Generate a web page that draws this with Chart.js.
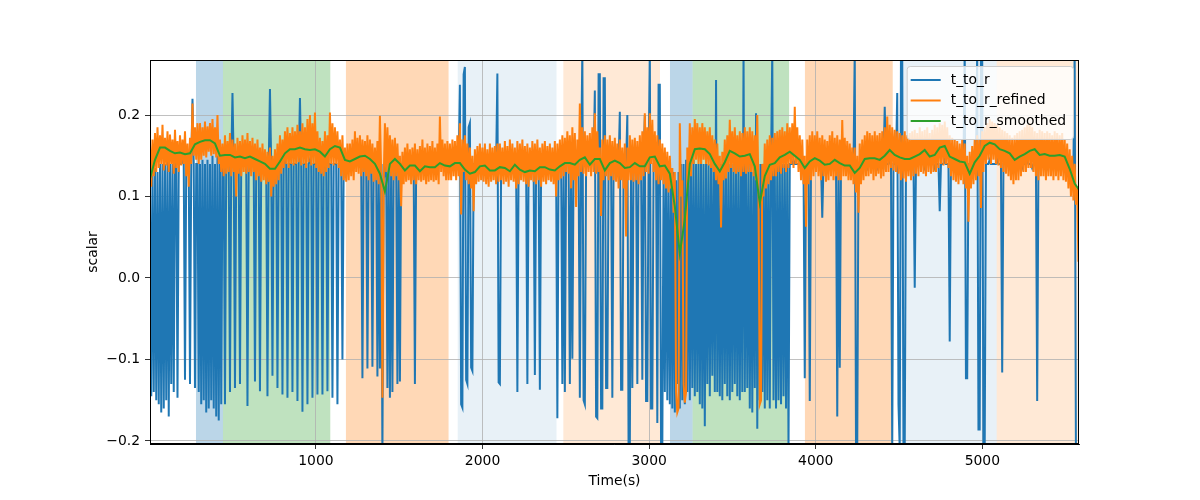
<!DOCTYPE html>
<html>
<head>
<meta charset="utf-8">
<script src="https://cdn.jsdelivr.net/npm/chart.js@4/dist/chart.umd.min.js"></script>
<style>
  body { margin: 0; background: #fff; }
  canvas { display: block; }
</style>
</head>
<body>
<canvas id="chart" width="1200" height="500"></canvas>
<script>
// sampling of the series along Time(s)
const startTime = 4;
const rawStep = 7.5;
const smoothStep = 30;

const xTicks = [1000, 2000, 3000, 4000, 5000];
const yTicks = [-0.2, -0.1, 0.0, 0.1, 0.2];

const tToR = [
  .11,-.145,.13,-.14,.135,-.15,.13,-.155,.14,-.165,.14,-.16,.14,-.15,.145,-.17,.14,-.13,.14,-.14, .14,.14,-.147,.14,.14,.14,.145,.14,-.125,.14, .14,.14,-.13,.14,.22,.14,-.135,.14,.14,-.14,
  .14,-.155,.145,-.15,.14,-.165,.145,-.16,.14,-.15,.15,-.16,.14,-.17,.15,-.175,.14,-.155, .14,.14,-.155,.14,.145,.14,-.14,.14,.227,.14,-.135,.14,.14,.14,-.13,.14,.14,.14,.145,.14,-.157,.14,
  .14,.14, .145,.14, -.127,.14, .14,.14, -.139,.14, .14,.14, .145,.14, -.145,.14, .232,.14, -.12,.14, .14,.14, -.135,.14, .14,.14, -.143,.14, .145,.14, -.147,.14, .14,.14, -.14,.14, .14,.14, -.151,.14,
  .221,.14, -.164,.14, .14,.14, -.155,.14, .145,.14, -.147,.14, .14,.14, -.143,.14, .14,.14, -.143,.14, .14,.14, -.139,.14, .14,.14, -.147,.14, .14,.14, -.155,.14, .14,.14, -.1,.14, .14,.14, .145,.14,
  .145,.14, .14,.14, .15,.14, .14,.14, .145,.14, -.123,.14, .14,.14, -.111,.14, .14,.14, -.109,.14, .14,.14, -.121,.14, -.111,.14, -.22,.14, .13,.14, -.135,.14, -.147,.14, -.14,.14, .14,.14, -.13,.14,
  -.127,.14, .14,.14, .145,.14, .14,.14, .145,.14, .14,.14, -.13,.14, .14,.14, .145,.14, .14,.14, .135,.14, .14,.14, .145,.14, .14,.14, .135,.14, .14,.14, .145,.14, .14,.14, .135,.14, .14,.14,
  .14,.14, .14,.14, .145,.14, .14,.14, .237,-.155, -.159,.25, .259,-.125, -.13,.185, .19,-.11, -.114,.14, .14,.14, .145,.14, .14,.14, .135,.14, .14,.14, .145,.14, .14,.14, .14,.14, .145,.14, .251,-.128,
  -.13,.14, .14,.14, .145,.14, .14,.14, .14,.14, .145,.14, .14,.14, -.14,.14, .14,.14, .14,.14, .145,.14, -.13,.14, .14,.14, .14,.14, -.119,.14, .14,.14, -.137,.14, .14,.14, .145,.14, .14,.14,
  .14,.14, .145,.14, .14,.14, -.172,.14, .14,.14, -.13,.14, -.14,.14, .14,.14, -.13,.14, -.099,.14, .14,.14, .14,.14, -.147,.14, .28,-.15, -.155,.14, .14,.14, .145,.14, .14,.14, .23,-.17, -.172,.25,
  .25,-.16, -.16,.245, .245,-.135, -.135,.14, .14,.14, -.147,.14, .14,.14, .14,.14, .204,-.137, -.137,.14, .14,.14, .2,-.21, -.21,.14, -.135,.14, .14,.14, -.13,.14, .14,.14, -.125,.14, .2,-.151, -.151,.14,
  .28,-.16,-.16,.14,.14,.14,-.178,.237,.237,-.21,-.21, .14,-.14,.14,-.15,.13,-.155,.12,-.16,.13,-.165,.12,-.13,.13,-.16,.14,-.15,.14,-.155,.145,-.14,.14,-.15,.14,-.135,.145,-.145,.14,-.14,.14,
  -.155,.145,-.16,.14,-.182,.14,-.13,.14,-.145,.14, -.12,.14,-.14,.243,-.14,.14,-.145,.14,-.15,.14, -.13,.14,-.145,.14,-.15,.14,-.14,.14,-.13,.14, -.145,.14,-.15,.14,-.14,.28,-.14,.14,-.135,.14,
  -.16,.14,-.165,.13,-.135,.202,-.185,.14,-.15,.14, -.14,.14,-.16,.14,-.15,.14,-.16,.14,.28,-.15, .14,-.16,.14,-.15,.14,-.155,.14,-.145,.14,-.16, .14,-.21,.14,.14,.14,.145,.14,.14,.14,.14,
  .14,.14, .14,.14, -.123,.14, .14,.14, -.151,.14, .14,.14, .145,.14, .14,.14, .14,.14, .074,.14, .14,.14, .145,.14, .14,.14, .14,.14, .145,.14, -.17,.14, -.11,.14, .14,.14, .145,.14, .14,.14,
  .14,.14, .145,.14, .28,-.21, -.21,.14, .14,.14, .145,.14, .14,.14, .135,.14, .14,.14, .145,.14, .14,.14, .135,.14, .14,.14, .145,.14, .21,.14, .14,.14, .145,.14, -.21,.14, .14,.14, .227,-.155,
  -.21,.28, .28,-.21, -.21,.14, .14,.14, .145,.14, .14,.14, -.012,.14, .14,.14, .145,.14, .14,.14, .135,.14, .14,.14, .145,.14, .14,.14, .135,.14, .14,.14, .082,.14, .14,.14, .145,.14, .14,.14,
  -.078,.14, .14,.14, .145,.14, .14,.14, .135,.14, .14,.14, .28,-.123, -.123,.14, .14,.14, .145,.14, .14,.14, .28,-.186, -.186,.28, .28,-.21, -.21,.14, .14,.14, .145,.14, .14,.14, .14,.14, .145,.14,
  .14,.14, -.116,.14, .14,.14, .145,.14, .14,.14, .135,.14, .14,.14, .145,.14, .14,.14, .135,.14, .14,.14, .145,.14, .14,.14, .135,.14, .14,.14, -.151,.14, .14,.14, .145,.14, .14,.14, .135,.14,
  .14,.14, .145,.14, .14,.14, .135,.14, .14,.14, .145,.14, .14,.14, .135,.14, .14,.14, .13,.14, .28,-.21, -.21,-.21
];

const tToRRefined = [
  .165,.112, .17,.125, .178,.13, .185,.135, .175,.14, .188,.132, .172,.138, .18,.13, .176,.14, .17,.128, .182,.135, .168,.13, .175,.138, .17,.14, .18,.125, .165,.112, .172,.14, .214,.15, .185,.145, .19,.14,
  .19,.145, .185,.15, .192,.148, .186,.155, .19,.15, .195,.152, .185,.148, .2,.14, .17,.13, .165,.125, .175,.128, .168,.13, .178,.125, .17,.13, .165,.10, .172,.128, .168,.125, .175,.13, .17,.128, .178,.13,
  .168,.125, .172,.13, .165,.12, .17,.125, .16,.118, .165,.12, .158,.115, .155,.118, .16,.10, .15,.112, .158,.115, .165,.12, .175,.128, .17,.135, .18,.14, .185,.135, .178,.14, .185,.138, .18,.14, .188,.142,
  .18,.138, .19,.14, .185,.135, .195,.142, .2,.138, .19,.14, .203,.135, .18,.13, .172,.128, .168,.125, .18,.13, .175,.135, .203,.14, .19,.138, .185,.14, .18,.135, .17,.125, .175,.12, .16,.118, .165,.12,
  .165,.125, .17,.12, .18,.13, .172,.128, .175,.125, .17,.13, .168,.125, .175,.12, .17,.128, .165,.118, .16,.12, .168,.115, .199,.13, -.147,.12, .19,.13, .185,.132, .175,.125, .17,.12, .172,.125, .165,.12,
  .15,.088, .155,.115, .16,.118, .165,.12, .158,.115, .16,.12, .165,.115, .158,.12, .162,.118, .17,.12, .16,.115, .165,.118, .162,.12, .168,.118, .16,.12, .165,.115, .198,.13, .17,.125, .165,.12, .168,.12,
  .165,.12, .17,.125, .168,.12, .175,.125, .19,.078, .17,.13, .175,.12, .165,.115, .16,.11, .15,.082, .158,.115, .162,.118, .165,.12, .16,.118, .165,.115, .158,.112, .165,.118, .16,.12, .162,.115, .165,.118,
  .165,.12, .16,.115, .168,.118, .162,.112, .17,.12, .165,.118, .16,.11, .168,.115, .165,.12, .17,.118, .162,.115, .165,.112, .16,.12, .168,.118, .165,.115, .17,.12, .16,.112, .165,.118, .168,.115, .162,.12,
  .165,.118, .16,.115, .168,.1, .165,.12, .17,.122, .175,.125, .172,.13, .18,.128, .175,.11, .185,.12, .178,.087, .17,.125, .214,.13, .185,.128, .18,.125, .175,.13, .178,.125, .185,.13, .202,.128, .18,.13,
  .16,.076, .17,.12, .175,.125, .17,.12, .175,.125, .168,.12, .172,.118, .165,.11, .17,.12, .16,.11, .165,.051, .16,.12, .175,.12, .17,.118, .172,.12, .168,.115, .175,.12, .18,.125, .202,.13, .185,.128,
  .202,.14, .194,.13, .18,.12, .175,.115, .17,.12, .165,.115, .16,.11, .155,.105, .15,.11, .135,.08, .13,-.14, -.165,-.16, .19,.1, .12,-.13, -.153,-.14, .16,.12, .19,.125, .185,.14, .195,.145, .19,.14,
  .185,.14, .19,.145, .185,.14, .18,.138, .185,.135, .175,.13, .17,.12, .165,.115, .15,.062, .155,.12, .17,.122, .175,.13, .194,.135, .18,.13, .185,.128, .175,.13, .18,.125, .178,.13, .185,.128, .18,.13,
  .185,.13, .18,.125, .175,.12, .2,.1, -.155,-.15, .14,.10, .165,.11, .17,.115, .175,.12, .172,.125, .178,.125, .18,.13, .182,.128, .185,.135, .18,.13, .19,.135, .185,.14, .19,.135, .21,.14, .185,.13,
  .175,.12, .17,.115, .15,.063, .17,.115, .175,.12, .18,.125, .175,.13, .18,.125, .172,.12, .175,.125, .17,.118, .168,.12, .175,.125, .18,.12, .172,.125, .175,.12, .17,.12, .194,.125, .172,.125, .168,.12,
  .165,.12, .16,.115, .16,.105, .15,.08, .165,.115, .17,.12, .175,.125, .18,.125, .178,.128, .175,.12, .18,.125, .175,.128, .178,.122, .18,.125, .185,.13, .198,.13, .188,.135, .185,.132, .182,.13, .18,.128,
  .178,.12, .175,.122, .18,.118, .175,.125, .178,.12, .18,.125, .182,.128, .178,.125, .185,.13, .18,.128, .182,.125, .185,.13, .178,.128, .182,.13, .188,.13, .185,.135, .19,.14, .188,.138, .192,.14, .185,.135,
  .175,.125, .172,.12, .17,.118, .168,.115, .165,.12, .17,.115, .165,.11, .15,.069, .155,.11, .162,.115, .17,.12, .175,.125, .17,.086, .18,.13, .185,.14, .19,.145, .195,.14, .192,.145, .19,.14, .188,.138,
  .185,.135, .182,.13, .18,.128, .178,.125, .175,.12, .172,.115, .175,.12, .178,.12, .18,.125, .182,.13, .185,.13, .188,.135, .19,.135, .185,.13, .18,.125, .178,.12, .182,.125, .18,.125, .178,.12, .18,.125,
  .178,.125, .175,.12, .18,.125, .178,.12, .175,.125, .178,.12, .17,.118, .165,.11, .158,.10, .15,.095, .14,.09, .11,.02
];

const tToRSmoothed = [
  0.122, 0.145, 0.160, 0.160, 0.156, 0.153, 0.154, 0.152, 0.153, 0.164, 0.167, 0.169, 0.169, 0.165, 0.150, 0.151, 0.151, 0.148, 0.149, 0.147,
  0.149, 0.146, 0.143, 0.140, 0.134, 0.134, 0.143, 0.153, 0.158, 0.158, 0.160, 0.158, 0.157, 0.158, 0.155, 0.149, 0.158, 0.162, 0.160, 0.145,
  0.143, 0.146, 0.149, 0.150, 0.146, 0.140, 0.128, 0.106, 0.140, 0.146, 0.140, 0.132, 0.138, 0.138, 0.131, 0.137, 0.136, 0.136, 0.141, 0.138,
  0.137, 0.141, 0.141, 0.133, 0.128, 0.130, 0.137, 0.138, 0.132, 0.132, 0.136, 0.135, 0.131, 0.139, 0.133, 0.130, 0.132, 0.131, 0.136, 0.136,
  0.133, 0.132, 0.137, 0.141, 0.141, 0.139, 0.145, 0.148, 0.139, 0.146, 0.146, 0.132, 0.141, 0.144, 0.141, 0.135, 0.136, 0.141, 0.137, 0.137,
  0.148, 0.149, 0.137, 0.138, 0.128, 0.088, 0.030, 0.072, 0.140, 0.158, 0.159, 0.158, 0.152, 0.140, 0.131, 0.142, 0.156, 0.153, 0.149, 0.150,
  0.152, 0.137, 0.092, 0.125, 0.139, 0.141, 0.148, 0.151, 0.155, 0.150, 0.145, 0.135, 0.143, 0.147, 0.144, 0.139, 0.140, 0.145, 0.141, 0.138,
  0.138, 0.129, 0.135, 0.146, 0.147, 0.147, 0.145, 0.150, 0.157, 0.151, 0.148, 0.146, 0.146, 0.149, 0.152, 0.157, 0.149, 0.151, 0.160, 0.162,
  0.149, 0.146, 0.143, 0.142, 0.128, 0.142, 0.150, 0.162, 0.166, 0.164, 0.158, 0.156, 0.153, 0.145, 0.149, 0.152, 0.156, 0.158, 0.151, 0.152,
  0.150, 0.150, 0.151, 0.149, 0.134, 0.116, 0.107
];

// shaded intervals (Time(s))
const spanStart = [280, 442, 1180, 1851, 2485, 3125, 3261, 3935, 4510, 5086];
const spanEnd   = [442, 1086, 1796, 2444, 3065, 3261, 3840, 4462, 5086, 5580];
const spanKind  = ['blue', 'green', 'orange', 'paleBlue', 'paleOrange', 'blue', 'green', 'orange', 'paleBlue', 'paleOrange'];

const spanColors = {
    blue: 'rgba(31, 119, 180, 0.3)',
    green: 'rgba(44, 160, 44, 0.3)',
    orange: 'rgba(255, 127, 14, 0.3)',
    paleBlue: 'rgba(31, 119, 180, 0.1)',
    paleOrange: 'rgba(255, 127, 14, 0.17)'
};

const FONT = '"DejaVu Sans", sans-serif';

function toPoints(values, step) {
    return values.map((v, i) => ({ x: startTime + i * step, y: v }));
}

function fmtTick(v, digits) {
    return v.toFixed(digits).replace('-', '\u2212');
}

const spansPlugin = {
    id: 'spans',
    beforeDraw(chart) {
        const { ctx, chartArea, scales } = chart;
        ctx.save();
        ctx.beginPath();
        ctx.rect(chartArea.left, chartArea.top, chartArea.right - chartArea.left, chartArea.bottom - chartArea.top);
        ctx.clip();
        spanStart.forEach((s, i) => {
            const x0 = scales.x.getPixelForValue(s);
            const x1 = scales.x.getPixelForValue(spanEnd[i]);
            ctx.fillStyle = spanColors[spanKind[i]];
            ctx.fillRect(x0, chartArea.top, x1 - x0, chartArea.bottom - chartArea.top);
        });
        ctx.restore();
    }
};

const framePlugin = {
    id: 'frame',
    afterDatasetsDraw(chart) {
        const { ctx, chartArea } = chart;
        ctx.save();
        ctx.strokeStyle = '#000';
        ctx.lineWidth = 1;
        ctx.strokeRect(chartArea.left + 0.5, chartArea.top + 0.5,
            chartArea.right - chartArea.left - 1, chartArea.bottom - chartArea.top - 1);
        ctx.restore();
    }
};

const legendPlugin = {
    id: 'insideLegend',
    afterDraw(chart) {
        const { ctx, chartArea } = chart;
        const sets = chart.data.datasets;
        ctx.save();
        ctx.font = '13.9px ' + FONT;
        const textW = Math.max(...sets.map(d => ctx.measureText(d.label).width));
        const w = 4 + 30 + 10 + textW + 7;
        const h = 73;
        const x = chartArea.right - 6 - w;
        const y = chartArea.top + 6;
        ctx.beginPath();
        if (ctx.roundRect) ctx.roundRect(x + 0.5, y + 0.5, w, h, 3); else ctx.rect(x + 0.5, y + 0.5, w, h);
        ctx.fillStyle = 'rgba(255, 255, 255, 0.8)';
        ctx.fill();
        ctx.strokeStyle = '#cccccc';
        ctx.lineWidth = 1;
        ctx.stroke();
        sets.forEach((d, k) => {
            const cy = y + 14 + k * 20.5;
            ctx.strokeStyle = d.borderColor;
            ctx.lineWidth = 2;
            ctx.beginPath();
            ctx.moveTo(x + 4, cy);
            ctx.lineTo(x + 34, cy);
            ctx.stroke();
            ctx.fillStyle = '#000';
            ctx.textAlign = 'left';
            ctx.textBaseline = 'middle';
            ctx.fillText(d.label, x + 44, cy);
        });
        ctx.restore();
    }
};

const ctx = document.getElementById('chart').getContext('2d');
const chart = new Chart(ctx, {
    type: 'line',
    data: {
        datasets: [
            {
                label: 't_to_r',
                data: toPoints(tToR, rawStep),
                borderColor: '#1f77b4',
                borderWidth: 2,
                pointRadius: 0,
                fill: false,
                order: 3
            },
            {
                label: 't_to_r_refined',
                data: toPoints(tToRRefined, rawStep),
                borderColor: '#ff7f0e',
                borderWidth: 2,
                pointRadius: 0,
                fill: false,
                order: 2
            },
            {
                label: 't_to_r_smoothed',
                data: toPoints(tToRSmoothed, smoothStep),
                borderColor: '#2ca02c',
                borderWidth: 2,
                pointRadius: 0,
                fill: false,
                order: 1
            }
        ]
    },
    options: {
        responsive: false,
        animation: false,
        events: [],
        clip: 0,
        layout: {
            padding: { top: 60, right: 121, bottom: 0, left: 0 }
        },
        scales: {
            x: {
                type: 'linear',
                min: 4,
                max: 5580,
                afterBuildTicks: (scale) => { scale.ticks = xTicks.map(v => ({ value: v })); },
                afterFit: (scale) => { scale.height = 56; },
                grid: { color: '#b0b0b0', lineWidth: 0.8, tickColor: '#000', tickLength: 5 },
                border: { display: true, color: '#000', width: 1 },
                ticks: {
                    color: '#000',
                    font: { family: FONT, size: 13.9 },
                    padding: 4,
                    maxRotation: 0,
                    autoSkip: false,
                    callback: (v) => String(v)
                },
                title: {
                    display: true,
                    text: 'Time(s)',
                    color: '#000',
                    font: { family: FONT, size: 13.9 },
                    padding: { top: 0, bottom: 10.6 }
                }
            },
            y: {
                type: 'linear',
                min: -0.2037,
                max: 0.2675,
                afterBuildTicks: (scale) => { scale.ticks = yTicks.map(v => ({ value: v })); },
                afterFit: (scale) => { scale.width = 150; },
                grid: { color: '#b0b0b0', lineWidth: 0.8, tickColor: '#000', tickLength: 5 },
                border: { display: true, color: '#000', width: 1 },
                ticks: {
                    color: '#000',
                    font: { family: FONT, size: 13.9 },
                    padding: 5,
                    autoSkip: false,
                    callback: (v) => fmtTick(v, 1)
                },
                title: {
                    display: true,
                    text: 'scalar',
                    color: '#000',
                    font: { family: FONT, size: 13.9 },
                    padding: { top: 84.6, bottom: 0 }
                }
            }
        },
        plugins: {
            legend: { display: false },
            tooltip: { enabled: false }
        }
    },
    plugins: [spansPlugin, framePlugin, legendPlugin]
});
</script>
</body>
</html>
